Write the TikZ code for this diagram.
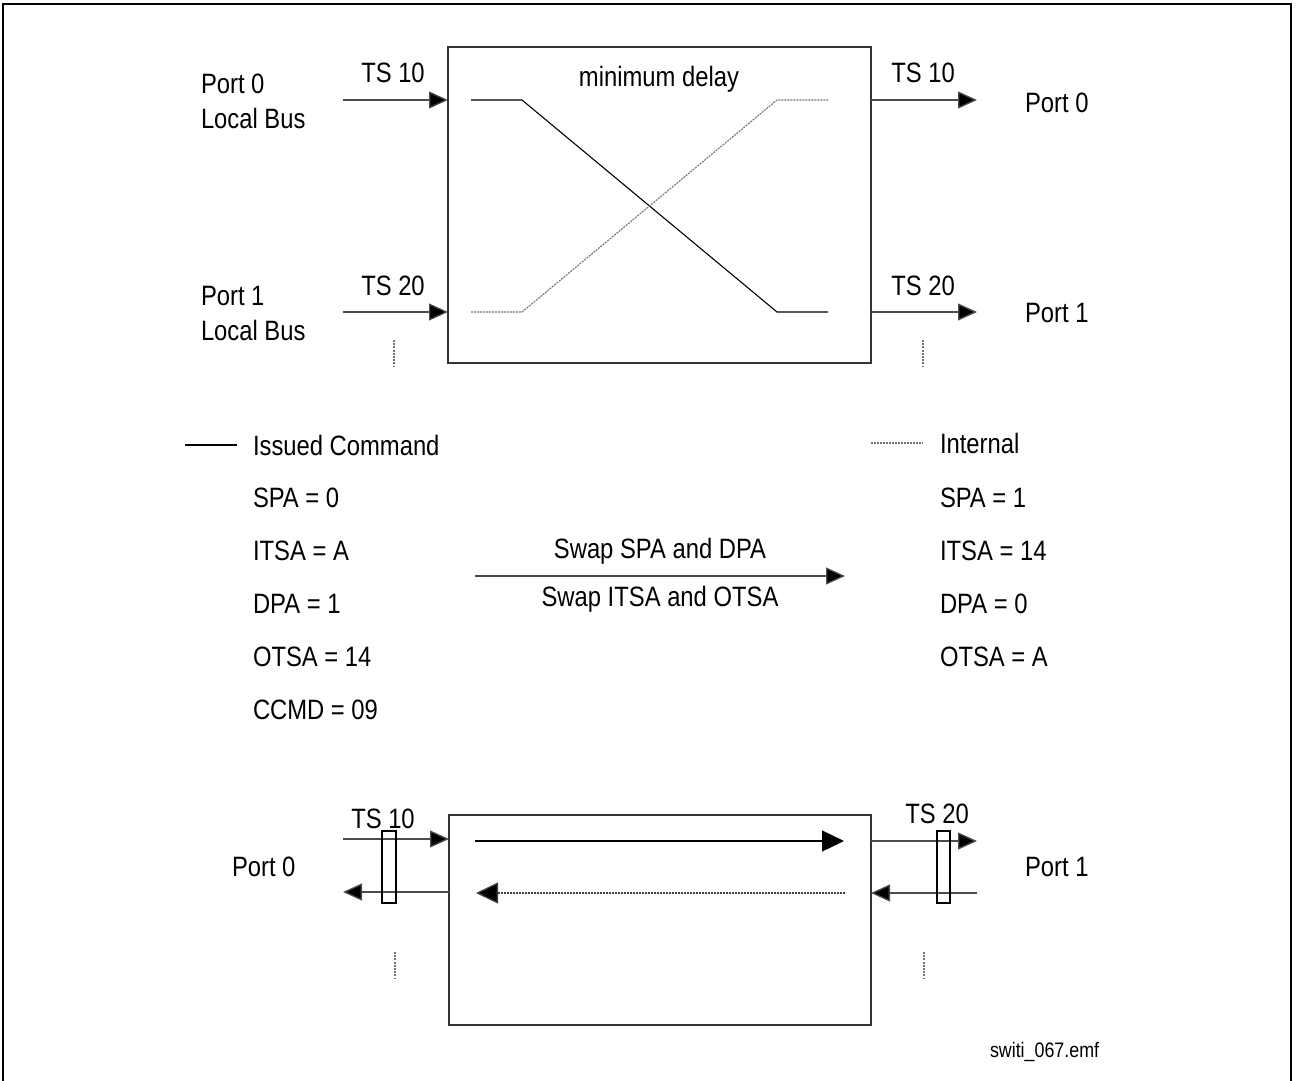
\documentclass[tikz,border=0pt]{standalone}
\usepackage{fontspec}
\setmainfont{Liberation Sans}[FakeStretch=0.85]
\usetikzlibrary{arrows.meta}
\begin{document}
\begin{tikzpicture}[x=1pt,y=-1pt,
  every node/.style={inner sep=0pt, outer sep=0pt, font=\fontsize{28}{34}\selectfont},
  lbl/.style={anchor=base west},
  clbl/.style={anchor=base},
  boxstyle/.style={draw=black!80, line width=1.4pt, anchor=north west},
  sig/.style={line width=1.3pt, draw=black!70, -{Triangle[length=19pt,width=17pt,fill=black]}},
  bigsig/.style={line width=1.3pt, -{Triangle[length=22pt,width=21pt,fill=black]}},
  solidpath/.style={line width=1.1pt, draw=black},
  dotpath/.style={line width=1.1pt, draw=black!55, dash pattern=on 2pt off 1pt},
  tick/.style={line width=1.2pt, draw=black!55, dash pattern=on 2pt off 1.2pt},
  clip/.style={draw=black, line width=1.2pt}
]
\useasboundingbox (0,0) rectangle (1296,1081);
% outer frame
\draw[line width=2.5pt] (3,1095) -- (3,4) -- (1291,4) -- (1291,1095);

% ---------- top box ----------
\node[boxstyle, minimum width=423pt, minimum height=316pt] (topbox) at (448,47) {};
\node[clbl] (mind) at (659,87) {minimum delay};

\coordinate (in0) at (343,100);
\coordinate (in1) at (343,312);
\draw[sig] (in0) -- (in0 -| topbox.west);
\draw[sig] (in1) -- (in1 -| topbox.west);
\coordinate (out0) at (977,100);
\coordinate (out1) at (977,312);
\draw[sig] (out0 -| topbox.east) -- (out0);
\draw[sig] (out1 -| topbox.east) -- (out1);

\node[clbl] (tsl0) at (393,83) {TS 10};
\node[clbl] (tsl1) at (393,295) {TS 20};
\node[clbl] (tsr0) at (923,83) {TS 10};
\node[clbl] (tsr1) at (923,295) {TS 20};

\node[lbl] (p0a) at (201,93) {Port 0};
\node[lbl] (p0b) at (201,128) {Local Bus};
\node[lbl] (p1a) at (201,305) {Port 1};
\node[lbl] (p1b) at (201,340) {Local Bus};
\node[lbl] (pr0) at (1025,112) {Port 0};
\node[lbl] (pr1) at (1025,322) {Port 1};

% crossing paths
\coordinate (s1) at (471,100);
\coordinate (s2) at (522,100);
\coordinate (s3) at (777,312);
\coordinate (s4) at (828,312);
\draw[solidpath] (s1) -- (s2) -- (s3) -- (s4);
\coordinate (d1) at (471,312);
\coordinate (d2) at (522,312);
\coordinate (d3) at (777,100);
\coordinate (d4) at (828,100);
\draw[dotpath] (d1) -- (d2) -- (d3) -- (d4);

\coordinate (tk1a) at (394,340);
\coordinate (tk1b) at (394,367);
\draw[tick] (tk1a) -- (tk1b);
\coordinate (tk2a) at (923,340);
\coordinate (tk2b) at (923,367);
\draw[tick] (tk2a) -- (tk2b);

% ---------- legend and lists ----------
\coordinate (lg1a) at (185,445);
\coordinate (lg1b) at (237,445);
\draw[solidpath] (lg1a) -- (lg1b);
\node[lbl] (issued) at (253,455) {Issued Command};
\coordinate (lg2a) at (871,443);
\coordinate (lg2b) at (923,443);
\draw[dotpath] (lg2a) -- (lg2b);
\node[lbl] (internal) at (940,453) {Internal};

\node[lbl] (l1) at (253,507) {SPA = 0};
\node[lbl] (l2) at (253,560) {ITSA = A};
\node[lbl] (l3) at (253,613) {DPA = 1};
\node[lbl] (l4) at (253,666) {OTSA = 14};
\node[lbl] (l5) at (253,719) {CCMD = 09};

\node[lbl] (r1) at (940,507) {SPA = 1};
\node[lbl] (r2) at (940,560) {ITSA = 14};
\node[lbl] (r3) at (940,613) {DPA = 0};
\node[lbl] (r4) at (940,666) {OTSA = A};

\coordinate (sw1) at (475,576);
\coordinate (sw2) at (845,576);
\draw[sig] (sw1) -- (sw2);
\node[clbl] (swapa) at (660,558) {Swap SPA and DPA};
\node[clbl] (swapb) at (660,606) {Swap ITSA and OTSA};

% ---------- bottom box ----------
\node[boxstyle, minimum width=422pt, minimum height=210pt] (botbox) at (449,815) {};

\coordinate (bl0) at (343,839);
\coordinate (bl1) at (343,892);
\draw[sig] (bl0) -- (bl0 -| botbox.west);
\draw[sig] (bl1 -| botbox.west) -- (bl1);
\coordinate (br0) at (977,841);
\coordinate (br1) at (977,893);
\draw[sig] (br0 -| botbox.east) -- (br0);
\draw[sig] (br1) -- (br1 -| botbox.east);

\coordinate (ia1) at (475,841);
\coordinate (ia2) at (844,841);
\draw[bigsig, draw=black] (ia1) -- (ia2);
\coordinate (ib1) at (845,893);
\coordinate (ib2) at (476,893);
\draw[bigsig, draw=black!75, dash pattern=on 2pt off 1pt] (ib1) -- (ib2);

\node[clip, minimum width=14pt, minimum height=72pt, anchor=north west] (cl0) at (382,831) {};
\node[clip, minimum width=13pt, minimum height=72pt, anchor=north west] (cl1) at (937,831) {};

\node[clbl] (tsb0) at (383,828) {TS 10};
\node[clbl] (tsb1) at (937,823) {TS 20};
\node[lbl] (pb0) at (232,876) {Port 0};
\node[lbl] (pb1) at (1025,876) {Port 1};

\coordinate (tk3a) at (395,952);
\coordinate (tk3b) at (395,978);
\draw[tick] (tk3a) -- (tk3b);
\coordinate (tk4a) at (924,952);
\coordinate (tk4b) at (924,978);
\draw[tick] (tk4a) -- (tk4b);

\node[lbl, font=\fontsize{21}{25}\selectfont] (fname) at (990,1057) {switi\_067.emf};
\end{tikzpicture}
\end{document}
